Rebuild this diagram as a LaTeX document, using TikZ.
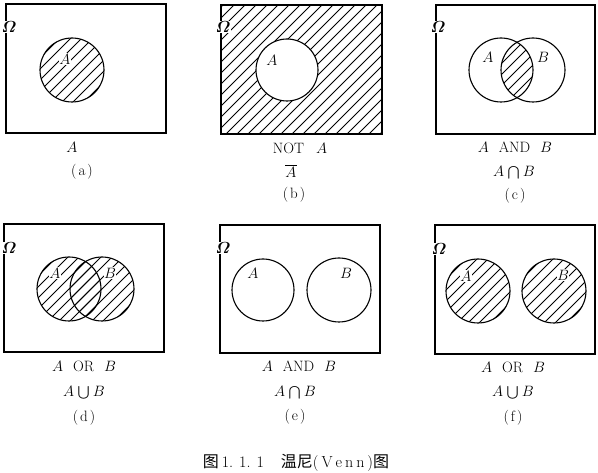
\RequirePackage{fix-cm}
\documentclass[tikz,border=0pt]{standalone}
\usepackage{amsmath}
\usepackage{graphicx}
\usepackage{fontspec}
\newfontfamily\cjk{Noto Sans CJK SC}
\tikzset{
  frame/.style={line width=1.4pt},
  venn/.style={line width=1.1pt},
  hatchline/.style={line width=0.8pt},
  lbl/.style={font=\fontsize{15}{18}\selectfont, inner sep=0pt},
  hlbl/.style={lbl, fill=white, inner sep=0.5pt},
  omega/.style={font=\fontsize{16}{18}\selectfont, fill=white, inner sep=0.6pt},
}
\newcommand\hatchlines[2]{%
  \foreach \k in {-187,-176,...,187}
    \draw[hatchline] ({#1+\k-130},{#2+130}) -- ({#1+\k+130},{#2-130});}
\newcommand\omg{{\boldmath$\varOmega$}}
\newcommand\gap{\hspace{10pt}}
\newcommand\sub[1]{(\kern2pt #1\kern2pt)}
\newcommand\capop{\mathbin{\raisebox{0.3pt}{\scalebox{1}[0.88]{$\bigcap$}}}}
\newcommand\cupop{\mathbin{\raisebox{0.3pt}{\scalebox{1}[0.88]{$\bigcup$}}}}
\begin{document}
\begin{tikzpicture}[x=1pt,y=-1pt]
\useasboundingbox (0,0) rectangle (598,473);
% (a)
\begin{scope}\clip (72,70) circle (32); \hatchlines{72}{70} \end{scope}
\draw[venn] (72,70) circle (32);
\draw[frame] (6,4) rectangle (166,133);
\node[hlbl] (aA) at (65,59) {$A$};
\node[omega] (aO) at (9,27) {\omg};
\node[lbl] (aT) at (72,147) {$A$};
\node[lbl] (aC) at (82,172) {\sub{a}};
% (b)
\begin{scope}\clip (221,5) rectangle (382,134); \hatchlines{301}{70} \end{scope}
\draw[venn, fill=white] (287,70) circle (31);
\draw[frame] (221,5) rectangle (382,134);
\node[lbl] (bA) at (272,60) {$A$};
\node[omega] (bO) at (223,27) {\omg};
\node[lbl] (bT) at (300,148) {NOT\hspace{12pt}$A$};
\node[lbl] (bT2) at (291,171) {$\overline{A}$};
\node[lbl] (bC) at (294,195) {\sub{b}};
% (c)
\begin{scope}\clip (501,70) circle (32); \clip (533,70) circle (32); \hatchlines{517}{70} \end{scope}
\draw[venn] (501,70) circle (32);
\draw[venn] (533,70) circle (32);
\draw[frame] (436,5) rectangle (595,134);
\node[lbl] (cA) at (488,57) {$A$};
\node[lbl] (cB) at (543,57) {$B$};
\node[omega] (cO) at (438,27) {\omg};
\node[lbl] (cT) at (515,147) {$A$\gap AND\gap $B$};
\node[lbl] (cT2) at (514,173) {$A\capop B$};
\node[lbl] (cC) at (515,196) {\sub{c}};
% (d)
\begin{scope}\clip (69,289) circle (32); \hatchlines{69}{289} \end{scope}
\begin{scope}\clip (102,289) circle (32); \hatchlines{69}{289} \end{scope}
\draw[venn] (69,289) circle (32);
\draw[venn] (102,289) circle (32);
\draw[frame] (4,224) rectangle (164,352);
\node[hlbl] (dA) at (55,273) {$A$};
\node[hlbl] (dB) at (110,273) {$B$};
\node[omega] (dO) at (9,248) {\omg};
\node[lbl] (dT) at (84,366) {$A$\gap OR\gap $B$};
\node[lbl] (dT2) at (84,393) {$A\cupop B$};
\node[lbl] (dC) at (84,418) {\sub{d}};
% (e)
\draw[venn] (263,290) circle (31);
\draw[venn] (339,290) circle (32);
\draw[frame] (220,225) rectangle (380,353);
\node[lbl] (eA) at (253,273) {$A$};
\node[lbl] (eB) at (346,273) {$B$};
\node[omega] (eO) at (223,248) {\omg};
\node[lbl] (eT) at (299,366) {$A$\gap AND\gap $B$};
\node[lbl] (eT2) at (295,393) {$A\capop B$};
\node[lbl] (eC) at (295,417) {\sub{e}};
% (f)
\begin{scope}\clip (478,291) circle (32); \hatchlines{478}{291} \end{scope}
\begin{scope}\clip (554,291) circle (32); \hatchlines{554}{291} \end{scope}
\draw[venn] (478,291) circle (32);
\draw[venn] (554,291) circle (32);
\draw[frame] (435,225) rectangle (595,354);
\node[hlbl] (fA) at (466,276) {$A$};
\node[hlbl] (fB) at (563,275) {$B$};
\node[omega] (fO) at (439,249) {\omg};
\node[lbl] (fT) at (513,367) {$A$\gap OR\gap $B$};
\node[lbl] (fT2) at (513,393) {$A\cupop B$};
\node[lbl] (fC) at (513,418) {\sub{f}};
% caption
\node[font=\fontsize{16}{18}\selectfont, inner sep=0pt] (cap) at (296,463)
  {{\cjk 图}\hspace{3pt}1.\kern6pt1.\kern6pt1\hspace{17pt}{\cjk 温尼}(\kern3pt V\kern3pt e\kern3pt n\kern3pt n\kern3pt){\cjk 图}};
\end{tikzpicture}
\end{document}
